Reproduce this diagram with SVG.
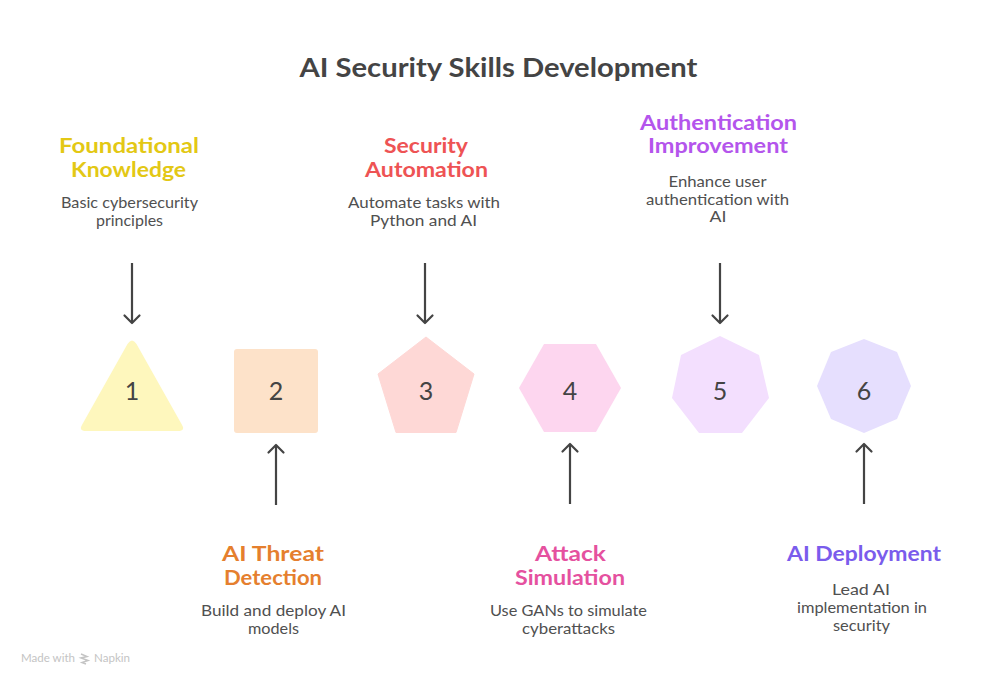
<svg xmlns="http://www.w3.org/2000/svg" width="996" height="684" viewBox="0 0 996 684">
<style>
text{font-family:"Lato","Open Sans","Liberation Sans",sans-serif;text-anchor:middle}
.title{font-size:26px;font-weight:700;fill:#444}
.h{font-size:20px;font-weight:700}
.b{font-size:15px;fill:#505050}
.n{font-size:25px;fill:#444}
.arrow{fill:none;stroke:#444;stroke-width:2.200;marker-end:url(#head)}
.wm{font-size:11px;fill:#c4c4c4}
</style>
<defs>
<marker id="head" viewBox="0 0 20 20" refX="10" refY="10" markerWidth="20" markerHeight="20" markerUnits="userSpaceOnUse" orient="auto">
<path d="M2.500 2.500L10 10L2.500 17.500" fill="none" stroke="#444" stroke-width="2.200" stroke-linecap="round" stroke-linejoin="round"/>
</marker>
</defs>
<rect width="996" height="684" fill="#fff"/>
<text id="title" class="title" x="498.500" y="76.500" textLength="398" lengthAdjust="spacingAndGlyphs">AI Security Skills Development</text>
<g id="connectors">
<path class="arrow" d="M132 263V323"/>
<path class="arrow" d="M276 505V445"/>
<path class="arrow" d="M425 263V323"/>
<path class="arrow" d="M570 504V444"/>
<path class="arrow" d="M720 263V323"/>
<path class="arrow" d="M864 504V444"/>
</g>
<g id="node-1">
<path d="M127.500 344Q132 337 136.500 344L181.500 424Q186 431 178 431H86Q78 431 82.500 424Z" fill="#fef7bd"/>
<text class="n" x="132" y="400">1</text>
<text class="h" x="129" y="153" fill="#e3c815" textLength="140" lengthAdjust="spacingAndGlyphs">Foundational</text>
<text class="h" x="128.500" y="177" fill="#e3c815" textLength="115" lengthAdjust="spacingAndGlyphs">Knowledge</text>
<text class="b" x="129.500" y="207.500" textLength="137" lengthAdjust="spacingAndGlyphs">Basic cybersecurity</text>
<text class="b" x="129.500" y="225.500" textLength="67" lengthAdjust="spacingAndGlyphs">principles</text>
</g>
<g id="node-2">
<rect x="234" y="349" width="84" height="84" rx="3" fill="#fde2c9"/>
<text class="n" x="276" y="400">2</text>
<text class="h" x="273" y="561" fill="#e57f2e" textLength="102" lengthAdjust="spacingAndGlyphs">AI Threat</text>
<text class="h" x="273" y="585" fill="#e57f2e" textLength="98" lengthAdjust="spacingAndGlyphs">Detection</text>
<text class="b" x="273.500" y="615.500" textLength="145" lengthAdjust="spacingAndGlyphs">Build and deploy AI</text>
<text class="b" x="273.500" y="633.500" textLength="51" lengthAdjust="spacingAndGlyphs">models</text>
</g>
<g id="node-3">
<path d="M426 337L474 374L456 432.500H396L378 374Z" fill="#fed8d6" stroke="#fed8d6" stroke-width="1" stroke-linejoin="round"/>
<text class="n" x="426" y="400">3</text>
<text class="h" x="426" y="153" fill="#ee5354" textLength="84" lengthAdjust="spacingAndGlyphs">Security</text>
<text class="h" x="426.500" y="177" fill="#ee5354" textLength="123" lengthAdjust="spacingAndGlyphs">Automation</text>
<text class="b" x="424" y="207.500" textLength="152" lengthAdjust="spacingAndGlyphs">Automate tasks with</text>
<text class="b" x="423.500" y="225.500" textLength="107" lengthAdjust="spacingAndGlyphs">Python and AI</text>
</g>
<g id="node-4">
<path d="M544 344H596L621 388L596 432H544L519 388Z" fill="#fdd6ef"/>
<text class="n" x="570" y="400">4</text>
<text class="h" x="570.500" y="561" fill="#e5519f" textLength="71" lengthAdjust="spacingAndGlyphs">Attack</text>
<text class="h" x="570" y="585" fill="#e5519f" textLength="110" lengthAdjust="spacingAndGlyphs">Simulation</text>
<text class="b" x="568.500" y="615.500" textLength="157" lengthAdjust="spacingAndGlyphs">Use GANs to simulate</text>
<text class="b" x="568.500" y="633.500" textLength="93" lengthAdjust="spacingAndGlyphs">cyberattacks</text>
</g>
<g id="node-5">
<path d="M720 336L759 355L769 398L742 433H699L672 398L681 355Z" fill="#f3dffe"/>
<text class="n" x="720" y="400">5</text>
<text class="h" x="718.500" y="129.500" fill="#b455ec" textLength="157" lengthAdjust="spacingAndGlyphs">Authentication</text>
<text class="h" x="718" y="153" fill="#b455ec" textLength="140" lengthAdjust="spacingAndGlyphs">Improvement</text>
<text class="b" x="717.500" y="186.500" textLength="98" lengthAdjust="spacingAndGlyphs">Enhance user</text>
<text class="b" x="717.500" y="204.500" textLength="143" lengthAdjust="spacingAndGlyphs">authentication with</text>
<text class="b" x="718" y="222" textLength="17" lengthAdjust="spacingAndGlyphs">AI</text>
</g>
<g id="node-6">
<path d="M864 339L897 352L911 386L897 419L864 433L831 419L817 386L831 352Z" fill="#e6dffe"/>
<text class="n" x="864" y="400">6</text>
<text class="h" x="864" y="561" fill="#7a5cec" textLength="154" lengthAdjust="spacingAndGlyphs">AI Deployment</text>
<text class="b" x="861" y="595" textLength="58" lengthAdjust="spacingAndGlyphs">Lead AI</text>
<text class="b" x="862" y="613" textLength="130" lengthAdjust="spacingAndGlyphs">implementation in</text>
<text class="b" x="861.500" y="631" textLength="57" lengthAdjust="spacingAndGlyphs">security</text>
</g>
<g id="watermark">
<text class="wm" x="48" y="662" textLength="54" lengthAdjust="spacingAndGlyphs">Made with</text>
<path d="M81 654L87 656.500L81 658L88 660.500L82 662.500L86 664" fill="none" stroke="#c4c4c4" stroke-width="1.500"/>
<text class="wm" x="112" y="662" textLength="36" lengthAdjust="spacingAndGlyphs">Napkin</text>
</g>
</svg>
